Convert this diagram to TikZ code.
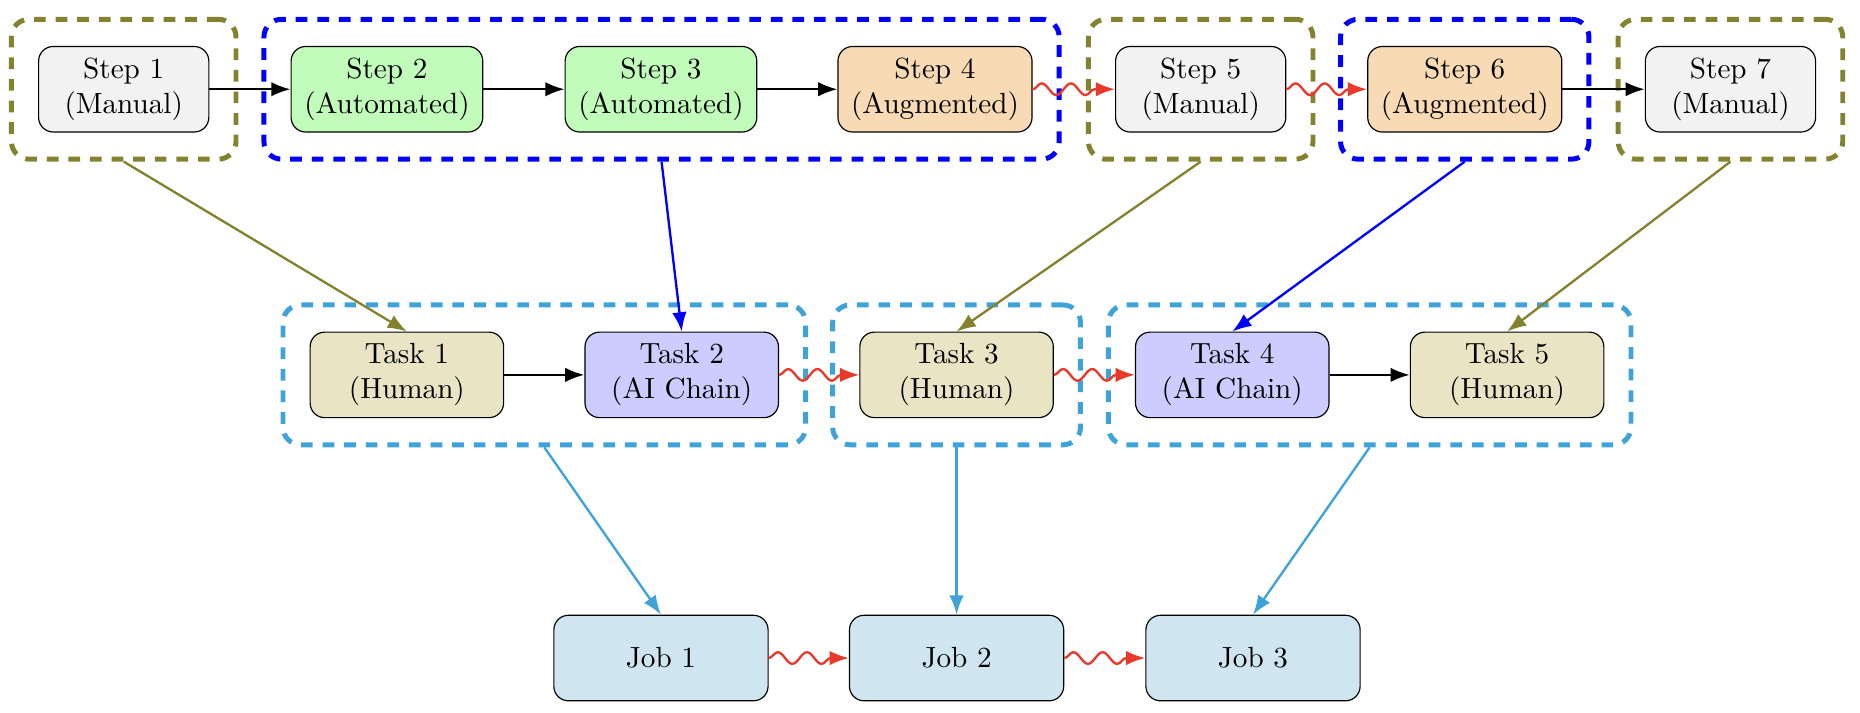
\documentclass[tikz,border=0pt]{standalone}
\usepackage{amssymb,amsmath}
\usepackage{color}
\usepackage{tikz}
\usetikzlibrary{positioning,fit,arrows.meta,decorations.pathmorphing}
\definecolor{manualOlive}{RGB}{133, 130, 47}
\definecolor{taskBlue}{RGB}{63, 163, 217}
\definecolor{jobFill}{RGB}{207, 230, 240}
\definecolor{humanFill}{RGB}{232, 228, 196}
\definecolor{augFill}{RGB}{248, 218, 181}
\definecolor{autoFill}{RGB}{194, 252, 187}
\definecolor{handoffRed}{RGB}{232, 57, 42}

\begin{document}
\begin{tikzpicture}
  [
    Box/.style={rectangle, rounded corners=5pt, draw=black, align=center, inner xsep=4.5pt, minimum height=1.03cm},
    Manual/.style={Box, fill=gray!10, minimum width=2.05cm},
    Automated/.style={Box, fill=autoFill, minimum width=2.05cm},
    Augmented/.style={Box, fill=augFill, minimum width=2.05cm},
    Human/.style={Box, fill=humanFill, minimum width=2.33cm},
    AIChain/.style={Box, fill=blue!20, minimum width=2.33cm},
    Job/.style={Box, fill=jobFill, minimum width=2.58cm},
    Group/.style={draw, line width=1.7pt, dash pattern=on 4pt off 3.4pt, rounded corners=6pt, inner sep=0.32cm},
    Flow/.style={-{Latex}, draw, thick},
    Handoff/.style={-{Latex}, draw, thick, color=handoffRed, decorate,
      decoration={snake, amplitude=2pt, segment length=10pt, post length=1.5mm}}
  ]
  \useasboundingbox (0, 0) rectangle (22.40, 8.585);

  % Steps
  \node[Manual] (s1) at(1.49, 7.51) {Step 1\\(Manual)};
  \node[Automated] (s2) at(4.66, 7.51) {Step 2\\(Automated)};
  \node[Automated] (s3) at(7.96, 7.51) {Step 3\\(Automated)};
  \node[Augmented] (s4) at(11.26, 7.51) {Step 4\\(Augmented)};
  \node[Manual] (s5) at(14.46, 7.51) {Step 5\\(Manual)};
  \node[Augmented] (s6) at(17.64, 7.51) {Step 6\\(Augmented)};
  \node[Manual] (s7) at(20.84, 7.51) {Step 7\\(Manual)};

  % Tasks
  \node[Human] (t1) at(4.90, 4.07) {Task 1\\(Human)};
  \node[AIChain] (t2) at(8.21, 4.07) {Task 2\\(AI Chain)};
  \node[Human] (t3) at(11.52, 4.07) {Task 3\\(Human)};
  \node[AIChain] (t4) at(14.84, 4.07) {Task 4\\(AI Chain)};
  \node[Human] (t5) at(18.15, 4.07) {Task 5\\(Human)};

  % Jobs
  \node[Job] (j1) at(7.96, 0.66) {Job 1};
  \node[Job] (j2) at(11.52, 0.66) {Job 2};
  \node[Job] (j3) at(15.09, 0.66) {Job 3};

  % Groups
  \node[Group, manualOlive, fit=(s1)] (g1) {};
  \node[Group, blue, fit=(s2) (s4)] (g2) {};
  \node[Group, manualOlive, fit=(s5)] (g3) {};
  \node[Group, blue, fit=(s6)] (g4) {};
  \node[Group, manualOlive, fit=(s7)] (g5) {};
  \node[Group, taskBlue, fit=(t1) (t2)] (h1) {};
  \node[Group, taskBlue, fit=(t3)] (h2) {};
  \node[Group, taskBlue, fit=(t4) (t5)] (h3) {};

  % Lines
  \path [Flow] (s1) -- (s2);
  \path [Flow] (s2) -- (s3);
  \path [Flow] (s3) -- (s4);
  \path [Handoff] (s4) -- (s5);
  \path [Handoff] (s5) -- (s6);
  \path [Flow] (s6) -- (s7);
  \path [Flow] (t1) -- (t2);
  \path [Handoff] (t2) -- (t3);
  \path [Handoff] (t3) -- (t4);
  \path [Flow] (t4) -- (t5);
  \path [Handoff] (j1) -- (j2);
  \path [Handoff] (j2) -- (j3);

  \path [Flow, manualOlive] (g1.south) -- (t1.north);
  \path [Flow, blue] (g2.south) -- (t2.north);
  \path [Flow, manualOlive] (g3.south) -- (t3.north);
  \path [Flow, blue] (g4.south) -- (t4.north);
  \path [Flow, manualOlive] (g5.south) -- (t5.north);
  \path [Flow, taskBlue] (h1.south) -- (j1.north);
  \path [Flow, taskBlue] (h2.south) -- (j2.north);
  \path [Flow, taskBlue] (h3.south) -- (j3.north);

\end{tikzpicture}
\end{document}
